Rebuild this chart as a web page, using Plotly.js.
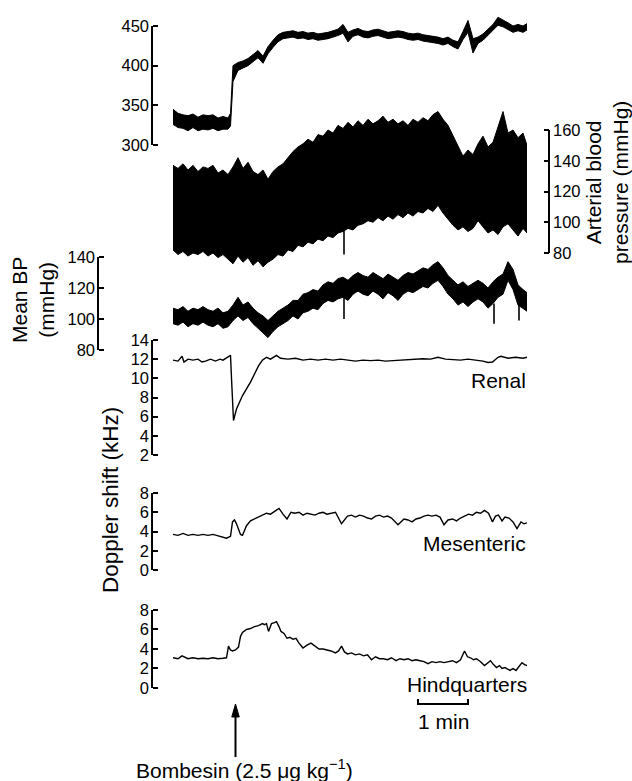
<!DOCTYPE html>
<html><head><meta charset="utf-8">
<script src="https://cdn.plot.ly/plotly-3.0.1.min.js"></script>
<style>html,body{margin:0;padding:0;background:#fff;overflow:hidden}#chart{width:632px;height:781px}</style>
</head><body><div id="chart"></div>
<script>
// ---------------- DATA (time in minutes) ----------------
const hrT = [0,0.1,0.2,0.3,0.4,0.5,0.6,0.7,0.8,0.9,1.0,1.1,1.15,1.2,1.3,1.4,1.5,1.6,1.7,1.8,1.9,2.0,2.1,2.2,2.3,2.4,2.5,2.6,2.7,2.8,2.9,3.0,3.1,3.2,3.3,3.4,3.5,3.6,3.7,3.8,3.9,4.0,4.1,4.2,4.3,4.4,4.5,4.6,4.7,4.8,4.9,5.0,5.1,5.2,5.3,5.4,5.5,5.6,5.7,5.8,5.9,6.0,6.1,6.2,6.3,6.4,6.5,6.6,6.7,6.8,6.9,7.0,7.08];
const hrHi = [345,340,338,337,339,335,338,337,338,334,336,334,340,400,404,406,409,414,419,412,424,432,439,442,443,444,442,443,441,442,440,441,442,444,446,452,442,445,447,444,443,445,446,444,442,443,444,443,441,440,441,439,438,437,436,434,436,432,430,443,457,434,436,440,446,452,461,458,454,450,452,450,453];
const hrLo = [326,322,321,318,322,318,320,319,321,318,320,320,324,380,394,397,400,405,410,403,415,423,430,434,435,436,434,435,433,434,432,433,434,436,438,441,430,437,439,436,435,437,438,436,434,435,436,435,433,432,433,431,430,429,428,426,428,424,421,433,442,416,428,432,438,444,451,449,446,442,444,442,445];

const bpT = [0,0.1,0.2,0.3,0.4,0.5,0.6,0.7,0.8,0.9,1.0,1.1,1.2,1.3,1.4,1.5,1.6,1.7,1.8,1.9,2.0,2.1,2.2,2.3,2.4,2.5,2.6,2.7,2.8,2.9,3.0,3.1,3.2,3.3,3.4,3.5,3.6,3.7,3.8,3.9,4.0,4.1,4.2,4.3,4.4,4.5,4.6,4.7,4.8,4.9,5.0,5.1,5.2,5.3,5.4,5.5,5.6,5.7,5.8,5.9,6.0,6.1,6.2,6.3,6.4,6.5,6.6,6.7,6.8,6.9,7.0,7.08];
const bpHi = [137,135,138,134,137,133,136,135,137,132,134,131,136,142,135,139,133,131,134,128,133,136,138,142,146,149,151,154,152,157,156,160,158,163,161,165,162,166,163,167,164,166,169,165,167,164,166,163,167,165,168,166,170,172,167,163,156,150,143,147,144,151,156,149,152,162,172,158,160,155,158,150];
const bpLo = [82,79,81,78,80,79,81,78,80,77,79,76,73,78,74,77,72,75,71,74,76,79,78,82,81,85,84,87,86,89,88,91,90,93,94,96,95,98,99,101,100,103,101,104,102,105,103,106,104,107,106,109,107,111,106,102,98,95,97,94,96,101,97,93,95,92,97,99,95,91,96,93];
// thin artefact spikes below the pulsatile band
const bpSpikeT = [3.42,3.42];
const bpSpikeV = [95,79];

const mbT = bpT;
const mbHi = [107,106,108,105,107,106,108,106,105,107,104,105,109,114,109,111,107,104,102,99,102,105,107,109,112,112,116,117,119,118,122,124,123,126,127,125,128,130,128,127,130,128,126,129,127,125,128,130,129,131,133,132,135,137,133,128,125,122,124,121,123,125,123,120,124,127,129,137,132,122,119,117];
const mbLo = [97,96,98,95,97,96,98,96,95,97,94,95,99,102,99,101,97,94,91,88,92,95,97,99,102,100,104,105,107,106,110,112,111,113,114,112,116,118,116,115,118,116,113,117,115,112,116,118,117,119,121,120,123,125,121,116,113,109,111,108,111,113,111,107,110,114,116,125,119,109,107,105];
const mbSpikeT = [3.42,3.42,null,6.42,6.42,null,6.92,6.92];
const mbSpikeV = [114,100,null,110,97,null,112,99];

const renT = [0,0.1,0.18,0.22,0.3,0.4,0.5,0.58,0.65,0.75,0.85,0.94,1.0,1.07,1.12,1.15,1.17,1.21,1.27,1.39,1.55,1.71,1.79,1.87,1.95,2.07,2.15,2.3,2.45,2.6,2.75,2.9,3.05,3.2,3.35,3.5,3.65,3.8,3.95,4.1,4.25,4.4,4.55,4.7,4.85,5.0,5.15,5.3,5.45,5.6,5.75,5.9,6.05,6.2,6.3,6.39,6.5,6.56,6.7,6.85,7.0,7.08];
const renV = [11.9,11.8,12.3,11.7,12.0,11.9,12.0,11.7,11.8,12.0,11.8,12.0,11.9,12.1,12.3,12.4,10.0,5.6,6.8,8.2,9.6,11.3,11.9,12.2,12.0,12.4,12.1,12.0,12.1,11.9,12.0,11.9,12.0,11.9,12.0,11.9,11.8,11.9,11.85,11.9,11.8,11.85,11.9,12.0,12.0,12.05,12.0,12.2,12.0,11.95,11.9,12.0,11.9,11.8,11.65,11.7,12.2,12.3,12.1,12.2,12.1,12.2];

const mesT = [0,0.1,0.2,0.3,0.4,0.5,0.6,0.7,0.8,0.94,1.07,1.15,1.19,1.23,1.27,1.35,1.39,1.47,1.55,1.63,1.71,1.79,1.87,1.95,2.03,2.12,2.2,2.28,2.36,2.44,2.52,2.6,2.68,2.76,2.84,2.92,3.0,3.08,3.16,3.25,3.37,3.49,3.57,3.65,3.73,3.81,3.89,3.97,4.05,4.13,4.21,4.29,4.37,4.5,4.62,4.7,4.78,4.86,4.94,5.02,5.1,5.18,5.26,5.34,5.42,5.5,5.59,5.67,5.75,5.83,5.91,5.99,6.07,6.15,6.23,6.31,6.39,6.45,6.51,6.58,6.64,6.72,6.8,6.88,6.96,7.02,7.08];
const mesV = [3.7,3.6,3.8,3.6,3.7,3.6,3.7,3.6,3.7,3.5,3.3,3.5,5.0,5.2,4.8,3.7,3.6,4.6,5.1,5.3,5.5,5.7,5.9,5.8,6.1,6.4,5.8,5.3,6.0,5.9,6.0,5.7,5.9,5.8,5.7,5.9,6.0,5.8,5.9,6.0,4.8,5.6,5.7,5.5,5.7,5.6,5.4,5.3,5.6,5.7,5.5,5.6,5.4,4.7,5.3,5.2,5.0,5.3,5.4,5.6,5.7,5.6,5.7,5.5,4.7,5.2,5.3,5.1,5.4,5.6,5.8,5.7,6.0,5.9,6.2,5.9,5.0,5.6,5.7,5.1,5.5,5.4,5.0,4.3,5.0,4.8,4.9];

const hqT = [0,0.1,0.18,0.3,0.4,0.5,0.6,0.7,0.8,0.9,1.0,1.07,1.11,1.15,1.19,1.25,1.31,1.35,1.39,1.47,1.55,1.63,1.71,1.79,1.83,1.87,1.91,1.97,2.03,2.07,2.12,2.16,2.22,2.28,2.34,2.40,2.46,2.52,2.60,2.68,2.76,2.84,2.92,3.0,3.08,3.16,3.25,3.31,3.37,3.43,3.49,3.57,3.65,3.73,3.81,3.89,3.97,4.05,4.13,4.21,4.29,4.37,4.46,4.54,4.62,4.7,4.78,4.86,4.94,5.02,5.10,5.18,5.26,5.34,5.42,5.5,5.59,5.67,5.75,5.83,5.89,5.95,6.01,6.07,6.15,6.23,6.29,6.35,6.41,6.47,6.53,6.58,6.64,6.68,6.74,6.80,6.86,6.92,6.98,7.03,7.08];
const hqV = [3.1,3.0,3.3,3.0,3.1,3.0,3.05,3.0,3.1,3.0,3.05,3.1,4.3,3.9,3.8,3.9,4.2,5.3,5.7,6.0,6.1,6.3,6.4,6.6,6.5,6.6,5.8,6.6,6.7,6.8,6.3,5.8,5.6,5.1,5.2,5.0,5.1,4.6,4.1,4.4,4.6,4.3,4.0,4.0,3.9,3.8,3.6,3.8,4.3,3.7,3.5,3.6,3.4,3.5,3.3,3.4,2.9,3.2,3.0,3.0,2.9,3.1,2.8,3.0,2.9,3.0,2.8,2.9,2.8,2.7,2.5,2.7,2.6,2.7,2.6,2.7,2.8,2.6,2.9,3.8,3.2,3.1,2.9,3.0,2.7,2.3,2.6,2.8,2.4,2.1,2.3,2.0,2.1,2.0,1.8,2.0,1.8,2.2,2.6,2.4,2.3];

// tick values
const hrTicks = [300,350,400,450];
const bpTicks = [80,100,120,140,160];
const mbTicks = [80,100,120,140];
const renTicks = [2,4,6,8,10,12,14];
const mesTicks = [0,2,4,6,8];
const hqTicks = [0,2,4,6,8];

const injectionTime = 1.25;   // bombesin injection (min)
const scaleStart = 4.9;       // 1-min calibration bar
const scaleLen = 1;

// ---------------- LAYOUT HELPERS ----------------
const W = 632, H = 781;
const FONT = '"Liberation Sans", Arial, Helvetica, sans-serif';
const px = x => x / W;
const py = y => 1 - y / H;
function dom(cal, r) {
  const [v1, p1, v2, p2] = cal;
  const k = (p2 - p1) / (v2 - v1);
  return [py(p1 + (r[0] - v1) * k), py(p1 + (r[1] - v1) * k)];
}

const panels = [
  {key:'yaxis',  ref:'y',  ticks:hrTicks,  cal:[300,145,450,26],  range:[270,480], xpos:152, side:'left'},
  {key:'yaxis2', ref:'y2', ticks:bpTicks,  cal:[80,253,160,130],  range:[60,185],  xpos:549, side:'right'},
  {key:'yaxis3', ref:'y3', ticks:mbTicks,  cal:[80,350,140,257],  range:[75,150],  xpos:98,  side:'left'},
  {key:'yaxis4', ref:'y4', ticks:renTicks, cal:[2,455,14,340],    range:[0,16],    xpos:152, side:'left'},
  {key:'yaxis5', ref:'y5', ticks:mesTicks, cal:[0,570,8,493],     range:[-1.5,9.5],xpos:152, side:'left'},
  {key:'yaxis6', ref:'y6', ticks:hqTicks,  cal:[0,688,8,610],     range:[-1.5,9.5],xpos:152, side:'left'}
];

const layout = {
  width: W, height: H,
  margin: {l:0, r:0, t:0, b:0},
  paper_bgcolor: '#fff', plot_bgcolor: 'rgba(0,0,0,0)',
  showlegend: false,
  font: {family: FONT, color: '#000'},
  xaxis: {domain:[px(173), px(527)], range:[0, 7.08], visible:false, anchor:'y'},
  shapes: [], annotations: []
};

panels.forEach(p => {
  layout[p.key] = {
    domain: dom(p.cal, p.range), range: p.range,
    anchor: 'free', position: px(p.xpos), side: p.side,
    tickvals: p.ticks, ticks: 'inside', ticklen: 5, tickwidth: 2, tickcolor: '#000',
    showline: false, showgrid: false, zeroline: false,
    tickfont: {family: FONT, size: 16.5, color: '#000'},
    ticklabelstandoff: 3
  };
  layout.shapes.push({type:'line', xref:'paper', yref:p.ref,
    x0:px(p.xpos), x1:px(p.xpos), y0:p.ticks[0], y1:p.ticks[p.ticks.length-1],
    line:{color:'#000', width:2}});
});

// 1-min calibration bar
const sbY = py(704), sbE = py(699);
layout.shapes.push({type:'path', xref:'x', yref:'paper',
  path:`M ${scaleStart},${sbE} L ${scaleStart},${sbY} L ${scaleStart+scaleLen},${sbY} L ${scaleStart+scaleLen},${sbE}`,
  line:{color:'#000', width:2}});

// injection arrow (shaft + head)
layout.shapes.push({type:'line', xref:'x', yref:'paper', x0:injectionTime, x1:injectionTime,
  y0:py(757), y1:py(714), line:{color:'#000', width:2}});
layout.shapes.push({type:'path', xref:'x', yref:'paper',
  path:`M ${injectionTime-0.075},${py(717)} L ${injectionTime},${py(704)} L ${injectionTime+0.075},${py(717)} Z`,
  fillcolor:'#000', line:{color:'#000', width:1}});

const LBL = {family: FONT, size: 21, color: '#000'};
const ann = (o) => Object.assign({showarrow:false, font:LBL, xref:'paper', yref:'paper'}, o);
layout.annotations.push(
  ann({text:'Renal', x:px(528), y:py(380), xanchor:'right', yanchor:'middle'}),
  ann({text:'Mesenteric', x:px(528), y:py(543), xanchor:'right', yanchor:'middle'}),
  ann({text:'Hindquarters', x:px(529), y:py(684), xanchor:'right', yanchor:'middle'}),
  ann({text:'1 min', xref:'x', x:scaleStart+scaleLen/2, y:py(721), xanchor:'center', yanchor:'middle'}),
  ann({text:'Bombesin (2.5 \u03bcg kg<sup>\u22121</sup>)', x:px(244), y:py(769), xanchor:'center', yanchor:'middle'}),
  ann({text:'Mean BP<br>(mmHg)', textangle:-90, x:px(33), y:py(300), xanchor:'center', yanchor:'middle'}),
  ann({text:'Arterial blood<br>pressure (mmHg)', textangle:-90, x:px(607), y:py(183), xanchor:'center', yanchor:'middle'}),
  ann({text:'Doppler shift (kHz)', textangle:-90, x:px(110), y:py(500), xanchor:'center', yanchor:'middle', font:{family:FONT, size:22.5, color:'#000'}})
);

// ---------------- TRACES ----------------
const band = (t, lo, hi, ya) => [
  {x:t, y:lo, yaxis:ya, mode:'lines', line:{color:'#000', width:1}, hoverinfo:'skip'},
  {x:t, y:hi, yaxis:ya, mode:'lines', fill:'tonexty', fillcolor:'#000', line:{color:'#000', width:1}, hoverinfo:'skip'}
];
const line = (t, v, ya, w) => ({x:t, y:v, yaxis:ya, mode:'lines', line:{color:'#000', width:w}, hoverinfo:'skip'});

const data = [
  ...band(hrT, hrLo, hrHi, 'y'),
  ...band(bpT, bpLo, bpHi, 'y2'),
  line(bpSpikeT, bpSpikeV, 'y2', 1.6),
  ...band(mbT, mbLo, mbHi, 'y3'),
  line(mbSpikeT, mbSpikeV, 'y3', 1.6),
  line(renT, renV, 'y4', 1.4),
  line(mesT, mesV, 'y5', 1.4),
  line(hqT, hqV, 'y6', 1.4)
];

Plotly.newPlot('chart', data, layout, {staticPlot:true, displayModeBar:false});
</script>
</body></html>
